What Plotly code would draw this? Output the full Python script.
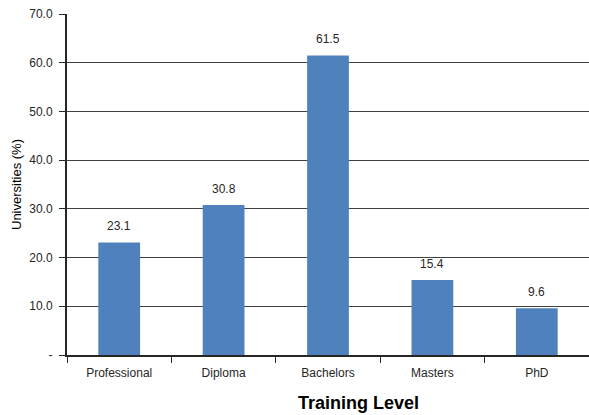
import plotly.graph_objects as go

categories = ["Professional", "Diploma", "Bachelors", "Masters", "PhD"]
values = [23.1, 30.8, 61.5, 15.4, 9.6]
y_tick_vals = [0, 10, 20, 30, 40, 50, 60, 70]
y_tick_text = ["-", "10.0", "20.0", "30.0", "40.0", "50.0", "60.0", "70.0"]

BAR = "#4F81BD"
FONT = "Liberation Sans, Arial, sans-serif"

fig = go.Figure()
fig.add_trace(go.Bar(x=categories, y=values, marker=dict(color=BAR, line=dict(width=0)),
                     width=0.4, hoverinfo="x+y"))

for c, v in zip(categories, values):
    fig.add_annotation(x=c, y=v, text=f"{v:.1f}", showarrow=False, yshift=16,
                       yanchor="middle", font=dict(family=FONT, size=12, color="#262626"))

fig.add_annotation(xref="paper", yref="paper", x=0.558, y=-0.14, yanchor="middle",
                   text="<b>Training Level</b>", showarrow=False,
                   font=dict(family=FONT, size=18, color="#000000"))

fig.update_layout(
    width=589, height=415,
    margin=dict(l=67, r=0, t=14, b=60),
    paper_bgcolor="white", plot_bgcolor="white",
    showlegend=False, bargap=0.6,
    font=dict(family=FONT, size=12, color="#262626"),
)
fig.update_xaxes(showline=True, linecolor="#262626", linewidth=1.5,
                 ticks="outside", tickson="boundaries", ticklen=6, tickcolor="#262626",
                 ticklabelstandoff=6,
                 tickfont=dict(family=FONT, size=12, color="#262626"), showgrid=False)
fig.update_yaxes(range=[0, 70], tickvals=y_tick_vals, ticktext=y_tick_text,
                 showline=True, linecolor="#262626", linewidth=2,
                 ticks="outside", ticklen=6, tickcolor="#262626",
                 showgrid=True, gridcolor="#404040", gridwidth=1.2, zeroline=False,
                 ticklabelstandoff=4,
                 tickfont=dict(family=FONT, size=12, color="#262626"),
                 title=dict(text="Universities (%)", standoff=5,
                            font=dict(family=FONT, size=13, color="#000000")))

fig.write_html("out.html")
